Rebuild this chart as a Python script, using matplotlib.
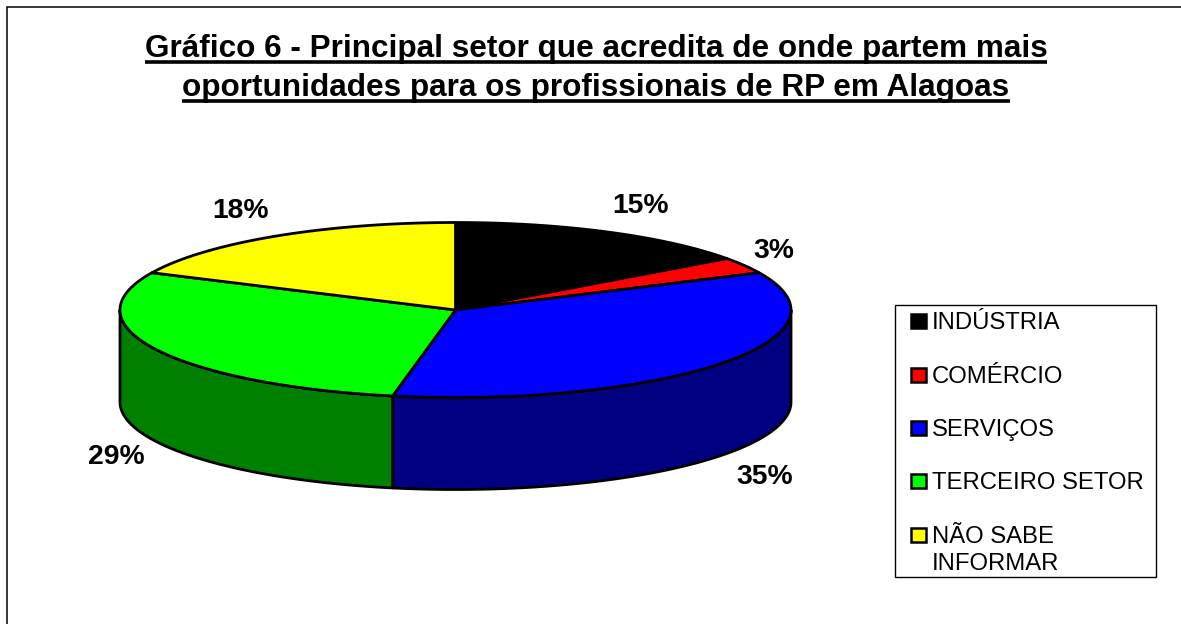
import numpy as np
import matplotlib
matplotlib.use("Agg")
import matplotlib.pyplot as plt
from matplotlib.patches import Polygon, Rectangle

plt.rcParams['font.family'] = ['Liberation Sans', 'DejaVu Sans']

# data
categories = ['INDÚSTRIA', 'COMÉRCIO', 'SERVIÇOS', 'TERCEIRO SETOR', 'NÃO SABE\nINFORMAR']
values = [15, 3, 35, 29, 18]
top_colors = ['#000000', '#ff0000', '#0000ff', '#00ff00', '#ffff00']
side_colors = ['#000000', '#800000', '#000080', '#008000', '#808000']
title_lines = ['Gráfico 6 - Principal setor que acredita de onde partem mais',
               'oportunidades para os profissionais de RP em Alagoas']

# pie geometry, in pixels
cx, cy = 455.5, 310
rx, ry = 335.5, 87.5
depth = 92
label_pos = [(641, 206), (774, 251), (765, 477), (116, 457), (241, 211)]

fig = plt.figure(figsize=(11.81, 6.24), dpi=100)
ax = fig.add_axes([0, 0, 1, 1])
ax.set_xlim(0, 1181)
ax.set_ylim(624, 0)
ax.axis('off')


def rim(a, b):
    # points on the top ellipse, angle clockwise from 12 o'clock
    t = np.radians(np.linspace(a, b, max(int(abs(b - a) * 2), 2)))
    return np.column_stack([cx + rx * np.sin(t), cy - ry * np.cos(t)])


# chart area border, only top and left are in the picture
ax.plot([6.5, 6.5, 1181], [624, 6.5, 6.5], color='black', lw=1.1, solid_joinstyle='miter')

edges = np.cumsum([0] + values) * 3.6

# side walls first
for i in range(len(values)):
    a = max(edges[i], 90)
    b = min(edges[i + 1], 270)
    if b <= a:
        continue
    up = rim(a, b)
    down = up[::-1] + [0, depth]
    ax.add_patch(Polygon(np.vstack([up, down]), closed=True, fc=side_colors[i],
                         ec='black', lw=2, joinstyle='round'))

# top slices
for i in range(len(values)):
    pts = np.vstack([[cx, cy], rim(edges[i], edges[i + 1])])
    ax.add_patch(Polygon(pts, closed=True, fc=top_colors[i], ec='black', lw=2,
                         joinstyle='round'))

# percent labels
for v, (x, y) in zip(values, label_pos):
    ax.text(x, y, '%d%%' % v, ha='center', va='center', fontsize=20.3, fontweight='bold',
            color='black')

# title with underline
fig.canvas.draw()
renderer = fig.canvas.get_renderer()
for line, base in zip(title_lines, [57, 96]):
    t = ax.text(596, base, line, ha='center', va='baseline', fontsize=22.7, fontweight='bold')
    box = t.get_window_extent(renderer)
    ax.plot([box.x0, box.x1], [base + 4.5, base + 4.5], color='black', lw=2.6,
            solid_capstyle='butt')

# legend, built by hand to keep the box placement
ax.add_patch(Rectangle((895, 305), 261, 272, fc='white', ec='black', lw=1))
legend_y = [320.5, 374.5, 427.5, 480.5, 534.5]
for name, col, y in zip(categories, top_colors, legend_y):
    ax.add_patch(Rectangle((911, y - 7), 14.5, 14.5, fc=col, ec='black', lw=1.8))
    parts = name.split('\n')
    ax.text(932, y + 8.5, parts[0], ha='left', va='baseline', fontsize=17.2)
    if len(parts) > 1:
        ax.text(932, y + 36, parts[1], ha='left', va='baseline', fontsize=17.2)

fig.savefig('out.png', dpi=100, facecolor='white')
